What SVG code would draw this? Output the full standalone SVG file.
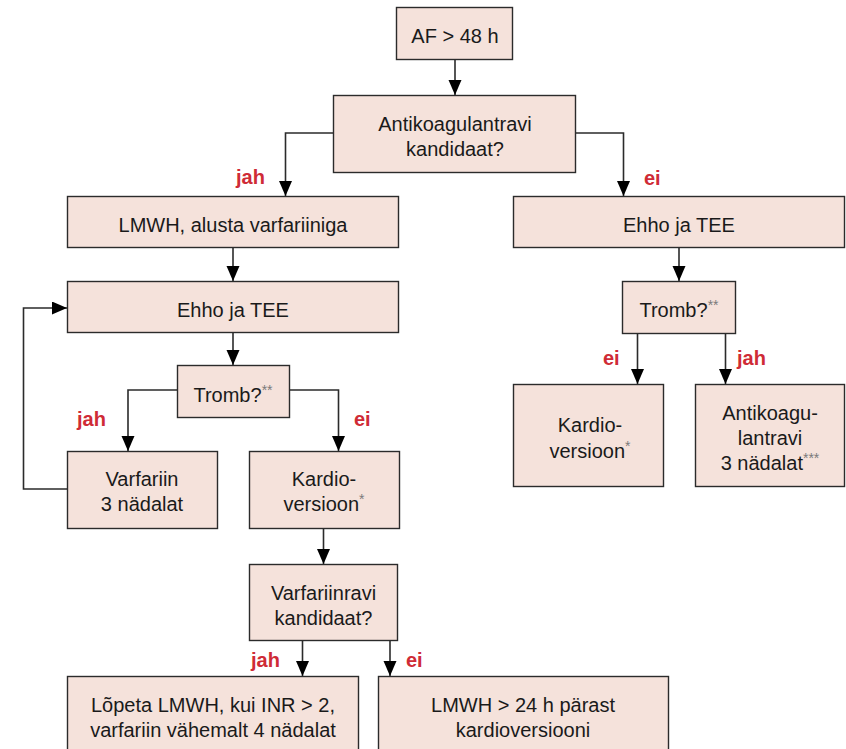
<svg xmlns="http://www.w3.org/2000/svg" width="846" height="749" viewBox="0 0 846 749">
  <defs>
    <marker id="arrow" markerUnits="userSpaceOnUse" markerWidth="15" markerHeight="14" viewBox="0 0 15 14" refX="15" refY="6.5" orient="auto">
      <path d="M0,0 L15,6.5 L0,13 Z" fill="#000"/>
    </marker>
    <style>
      .box { fill: #f5e2db; stroke: #2b2b2b; stroke-width: 1.4; }
      .txt { font-family: "Liberation Sans", Arial, sans-serif; font-size: 20px; fill: #1a1a1a; text-anchor: middle; }
      .lbl { font-family: "Liberation Sans", Arial, sans-serif; font-size: 20px; font-weight: bold; fill: #cf2b36; }
      .sup { font-size: 14px; fill: #7a7a7a; }
      .conn { fill: none; stroke: #2b2b2b; stroke-width: 1.6; }
      .arr { marker-end: url(#arrow); }
    </style>
  </defs>
  <rect width="846" height="749" fill="#ffffff"/>

  <!-- connectors -->
  <g id="connectors">
    <path class="conn arr" d="M455,59 V95"/>
    <path class="conn arr" d="M333,133 H285.5 V196"/>
    <path class="conn arr" d="M576,133 H623.5 V196"/>
    <path class="conn arr" d="M233,248 V281"/>
    <path class="conn arr" d="M679,248 V281"/>
    <path class="conn arr" d="M233,333 V365"/>
    <path class="conn arr" d="M177,390 H128 V451"/>
    <path class="conn arr" d="M289,390 H338.5 V451"/>
    <path class="conn arr" d="M67,489 H23.5 V308 H67"/>
    <path class="conn arr" d="M637.5,333 V384"/>
    <path class="conn arr" d="M725.5,333 V384"/>
    <path class="conn arr" d="M323.5,528 V564"/>
    <path class="conn arr" d="M302.5,641 V676"/>
    <path class="conn arr" d="M390,641 V676"/>
  </g>

  <!-- branch labels -->
  <g id="labels">
    <text class="lbl" x="236" y="184">jah</text>
    <text class="lbl" x="644" y="185">ei</text>
    <text class="lbl" x="77" y="426">jah</text>
    <text class="lbl" x="354" y="426">ei</text>
    <text class="lbl" x="603" y="365">ei</text>
    <text class="lbl" x="737" y="365">jah</text>
    <text class="lbl" x="251" y="667">jah</text>
    <text class="lbl" x="406" y="667">ei</text>
  </g>

  <g id="af48">
    <rect class="box" x="396.5" y="7.5" width="116" height="52"/>
    <text class="txt" x="455" y="43">AF &gt; 48 h</text>
  </g>

  <g id="antikoag-kandidaat">
    <rect class="box" x="333.5" y="95.5" width="242" height="77"/>
    <text class="txt" x="455" y="131">Antikoagulantravi</text>
    <text class="txt" x="455" y="156">kandidaat?</text>
  </g>

  <g id="lmwh-varfariin">
    <rect class="box" x="67.5" y="196.5" width="331" height="51"/>
    <text class="txt" x="233" y="232">LMWH, alusta varfariiniga</text>
  </g>

  <g id="ehho-tee-left">
    <rect class="box" x="67.5" y="281.5" width="331" height="51"/>
    <text class="txt" x="233" y="317">Ehho ja TEE</text>
  </g>

  <g id="tromb-left">
    <rect class="box" x="177.5" y="365.5" width="112" height="52"/>
    <text class="txt" x="233" y="402">Tromb?<tspan class="sup" dy="-7">**</tspan></text>
  </g>

  <g id="varfariin-3">
    <rect class="box" x="67.5" y="451.5" width="150" height="77"/>
    <text class="txt" x="142" y="486">Varfariin</text>
    <text class="txt" x="142" y="511">3 nädalat</text>
  </g>

  <g id="kardio-left">
    <rect class="box" x="249.5" y="451.5" width="150" height="77"/>
    <text class="txt" x="324" y="486">Kardio-</text>
    <text class="txt" x="324" y="511">versioon<tspan class="sup" dy="-7">*</tspan></text>
  </g>

  <g id="varfariinravi-kandidaat">
    <rect class="box" x="249.5" y="564.5" width="148" height="76"/>
    <text class="txt" x="323.5" y="600">Varfariinravi</text>
    <text class="txt" x="323.5" y="625">kandidaat?</text>
  </g>

  <g id="lopeta-lmwh">
    <rect class="box" x="67.5" y="676.5" width="291" height="80"/>
    <text class="txt" x="213" y="712">Lõpeta LMWH, kui INR &gt; 2,</text>
    <text class="txt" x="213" y="737">varfariin vähemalt 4 nädalat</text>
  </g>

  <g id="lmwh-24h">
    <rect class="box" x="378.5" y="676.5" width="290" height="80"/>
    <text class="txt" x="523" y="712">LMWH &gt; 24 h pärast</text>
    <text class="txt" x="523" y="737">kardioversiooni</text>
  </g>

  <g id="ehho-tee-right">
    <rect class="box" x="513.5" y="196.5" width="331" height="51"/>
    <text class="txt" x="679" y="232">Ehho ja TEE</text>
  </g>

  <g id="tromb-right">
    <rect class="box" x="622.5" y="281.5" width="113" height="52"/>
    <text class="txt" x="679" y="317">Tromb?<tspan class="sup" dy="-7">**</tspan></text>
  </g>

  <g id="kardio-right">
    <rect class="box" x="513.5" y="384.5" width="150" height="102"/>
    <text class="txt" x="590" y="432">Kardio-</text>
    <text class="txt" x="590" y="458">versioon<tspan class="sup" dy="-7">*</tspan></text>
  </g>

  <g id="antikoag-3">
    <rect class="box" x="695.5" y="384.5" width="149" height="102"/>
    <text class="txt" x="770" y="420">Antikoagu-</text>
    <text class="txt" x="770" y="445">lantravi</text>
    <text class="txt" x="770" y="470">3 nädalat<tspan class="sup" dy="-7">***</tspan></text>
  </g>
</svg>
